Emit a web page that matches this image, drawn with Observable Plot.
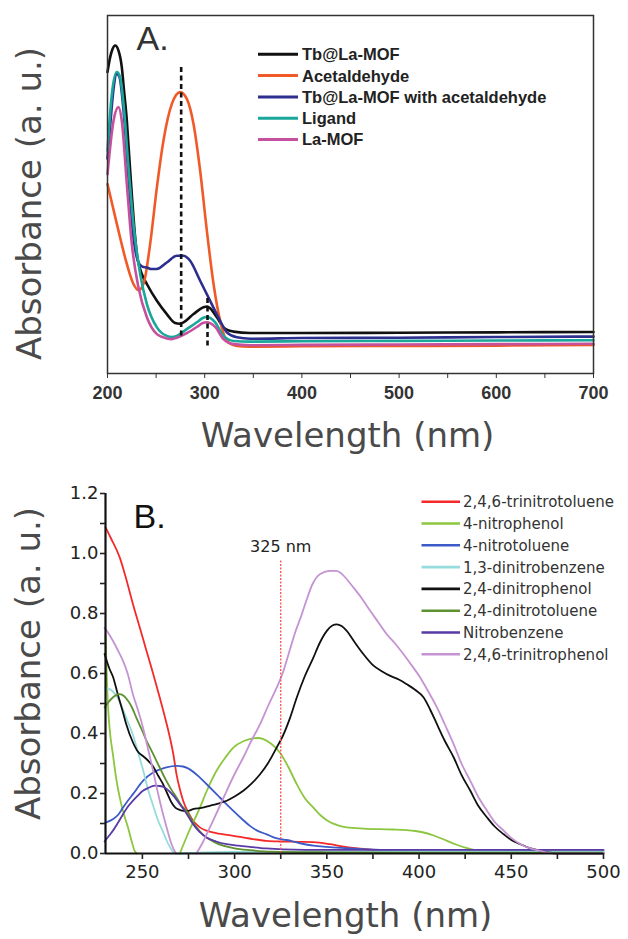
<!DOCTYPE html>
<html><head><meta charset="utf-8">
<script src="https://cdn.jsdelivr.net/npm/d3@7"></script>
<script src="https://cdn.jsdelivr.net/npm/@observablehq/plot@0.6"></script>
<style>
body{margin:0;background:#fff}
#wrap{width:628px;height:939px;background:#fff}
#wrap svg{display:block}
</style>
</head><body><div id="wrap"></div>
<script>
// ---------- Panel A data (wavelength nm, absorbance a.u.) ----------
const namesA = ["Tb@La-MOF", "Acetaldehyde", "Tb@La-MOF with acetaldehyde", "Ligand", "La-MOF"];
const colorsA = ["#111111", "#f05a28", "#2d2f8f", "#1aa69a", "#c4509e"];
const tbLaMOF = [[200,0.842],[202.7,0.883],[205,0.905],[207.9,0.916],[211.3,0.902],[214.7,0.856],[217,0.79],[219.9,0.706],[222.5,0.6],[225,0.501],[227.5,0.41],[230.2,0.334],[235,0.28],[240.5,0.25],[250.8,0.203],[261,0.166],[269.6,0.141],[274,0.139],[278.2,0.143],[288.5,0.166],[298.8,0.185],[302.5,0.187],[305.6,0.182],[312.5,0.157],[319.3,0.129],[325,0.12],[329.6,0.117],[346.8,0.113],[400,0.113],[500,0.114],[600,0.115],[700,0.116]];
const acetaldehyde = [[200,0.529],[209.6,0.418],[219.9,0.306],[226.7,0.25],[231.9,0.233],[237,0.25],[243.9,0.362],[250.8,0.52],[257.6,0.651],[266.2,0.753],[274.8,0.786],[281.6,0.767],[288.5,0.697],[295.3,0.567],[302.2,0.399],[309.1,0.25],[315.9,0.147],[322.8,0.091],[333.1,0.077],[346.8,0.075],[400,0.076],[500,0.077],[600,0.078],[700,0.08]];
const tbWithAcetaldehyde = [[200,0.6],[203,0.7],[206,0.79],[209.6,0.837],[212.3,0.828],[216.5,0.734],[221.6,0.548],[226.7,0.38],[231.9,0.31],[236,0.298],[240.5,0.296],[245,0.292],[250.8,0.292],[261,0.31],[271.3,0.329],[278.2,0.329],[285,0.315],[295.3,0.259],[305.6,0.203],[315.9,0.147],[322.8,0.115],[333.1,0.101],[346.8,0.097],[400,0.099],[500,0.1],[600,0.102],[700,0.103]];
const ligand = [[200,0.623],[204.5,0.781],[209.6,0.842],[213,0.828],[216.5,0.753],[221.6,0.576],[226.7,0.418],[233.6,0.278],[240.5,0.194],[250.8,0.129],[261,0.105],[266,0.102],[271.3,0.105],[281.6,0.124],[291.9,0.143],[298,0.155],[302.2,0.158],[306,0.155],[310.8,0.143],[319.3,0.105],[329.6,0.091],[346.8,0.089],[400,0.09],[500,0.091],[600,0.092],[700,0.093]];
const laMOF = [[200,0.557],[206.2,0.706],[211.3,0.744],[214.7,0.706],[219.9,0.529],[225,0.362],[231.9,0.24],[240.5,0.157],[250.8,0.11],[261,0.098],[266,0.096],[271.3,0.1],[281.6,0.113],[291.9,0.13],[298,0.141],[302.2,0.143],[306,0.14],[310.8,0.13],[319.3,0.096],[329.6,0.082],[346.8,0.079],[400,0.08],[500,0.081],[600,0.082],[700,0.083]];
const seriesA = [tbLaMOF, acetaldehyde, tbWithAcetaldehyde, ligand, laMOF];
const dashNm = [275.8, 302.9];
const dashLow = [0.105, 0.077];
const dashHigh = [0.86, 0.212];
const ticksA = [200, 250, 300, 350, 400, 450, 500, 550, 600, 650, 700];

// ---------- Panel B data ----------
const namesB = ["2,4,6-trinitrotoluene", "4-nitrophenol", "4-nitrotoluene", "1,3-dinitrobenzene", "2,4-dinitrophenol", "2,4-dinitrotoluene", "Nitrobenzene", "2,4,6-trinitrophenol"];
const colorsB = ["#f42a2a", "#8cc63e", "#3c5bc8", "#96dcdc", "#111111", "#5e9130", "#5a3aa5", "#c593d3"];
const tnt = [[230,1.087],[233,1.05],[237.7,0.987],[241,0.92],[244.9,0.831],[248.5,0.755],[252.2,0.676],[255.8,0.6],[259.4,0.52],[262,0.46],[264.9,0.387],[266.8,0.33],[268.5,0.264],[270.3,0.215],[272.1,0.176],[275,0.135],[277.5,0.109],[281,0.088],[284.8,0.076],[290,0.068],[299.3,0.059],[308,0.05],[317.4,0.042],[324.6,0.04],[335,0.039],[342.7,0.038],[351.8,0.031],[360,0.022],[369.9,0.015],[380,0.01],[397,0.007],[430,0.005],[470,0.004],[500,0.004]];
const nitrophenol = [[230,0.73],[231.3,0.498],[232.5,0.4],[234,0.331],[235.8,0.25],[237.7,0.187],[240,0.13],[242.2,0.087],[244,0.045],[245.8,0.009],[247,0],[257,null],[270.3,0],[275,0.07],[281.2,0.153],[285,0.21],[290.2,0.276],[295,0.32],[299.3,0.353],[305,0.375],[310.1,0.384],[313,0.385],[315.6,0.381],[320,0.365],[324.6,0.336],[329,0.29],[333.7,0.231],[338,0.185],[342.7,0.153],[347,0.125],[351.8,0.104],[356,0.094],[360.8,0.087],[370,0.083],[378.9,0.081],[386,0.08],[393.4,0.078],[398,0.075],[402.5,0.07],[408,0.06],[415.2,0.042],[420,0.03],[426,0.018],[431.5,0.009],[435,0.002]];
const nitrotoluene = [[230,0.103],[234,0.114],[237,0.13],[239.5,0.153],[242,0.175],[244.9,0.198],[250.3,0.242],[255.8,0.27],[259.4,0.28],[263,0.287],[268.5,0.292],[272,0.29],[275,0.283],[281.2,0.253],[285,0.23],[290.2,0.198],[295,0.168],[299.3,0.142],[304,0.115],[308.3,0.092],[312,0.077],[317.4,0.064],[322,0.052],[328.3,0.045],[335,0.035],[342.7,0.026],[350,0.022],[360.8,0.018],[378.9,0.012],[400,0.01],[450,0.009],[500,0.009]];
const dinitrobenzene = [[230,0.553],[234,0.54],[236.5,0.52],[239.5,0.48],[242,0.44],[244.9,0.395],[247.5,0.34],[250.3,0.28],[253,0.215],[255.8,0.16],[258.5,0.11],[261.2,0.072],[263,0.045],[264.9,0.022],[266.7,0.005],[268.5,0],[280,0.003],[300,0.005],[350,0.006],[400,0.008],[450,0.008],[500,0.008]];
const dinitrophenol = [[229.5,0.665],[232.2,0.615],[234,0.59],[236.7,0.53],[239.5,0.47],[241.3,0.43],[244.9,0.37],[247.5,0.34],[250.3,0.325],[253,0.31],[255.8,0.29],[258.5,0.26],[261.2,0.231],[263.5,0.2],[265.8,0.17],[268,0.152],[270.3,0.145],[272.1,0.142],[274.8,0.142],[277.5,0.148],[282,0.152],[286.6,0.159],[291,0.166],[295.7,0.176],[300,0.19],[304.7,0.209],[309,0.232],[313.8,0.264],[318,0.3],[322.8,0.353],[326,0.39],[330.1,0.453],[333.7,0.52],[338,0.59],[342.7,0.653],[346,0.7],[350,0.742],[353,0.76],[355.4,0.764],[358,0.758],[360.8,0.742],[365,0.705],[369.9,0.664],[375.3,0.626],[380,0.607],[384.4,0.592],[389,0.58],[393.4,0.564],[398,0.545],[402.5,0.52],[406,0.48],[409.7,0.431],[414,0.375],[418.8,0.32],[423,0.262],[427.8,0.209],[432,0.16],[436.9,0.12],[441,0.09],[445.9,0.064],[450,0.045],[455,0.031],[460,0.018],[465.8,0.009],[470,0.004],[474.9,0.0],[500,0.0]];
const dinitrotoluene = [[229.5,0.487],[231,0.5],[233.1,0.515],[235.5,0.527],[237.7,0.531],[240,0.525],[242.2,0.509],[244.5,0.485],[246.7,0.453],[249.5,0.415],[252.2,0.376],[255,0.342],[257.6,0.309],[260.3,0.275],[263,0.242],[265.8,0.212],[268.5,0.187],[271.2,0.16],[273.9,0.142],[277.5,0.103],[281,0.075],[284.8,0.053],[289,0.038],[293.8,0.026],[300,0.017],[308.3,0.011],[320,0.006],[350,0.004],[400,0.003],[500,0.003]];
const nitrobenzene = [[229.5,0.04],[232,0.06],[234,0.076],[237,0.105],[239.5,0.131],[242,0.155],[244.9,0.176],[247.5,0.193],[250.3,0.209],[253,0.218],[256.7,0.226],[259.5,0.225],[262.1,0.22],[265,0.205],[267.6,0.187],[270.3,0.164],[273,0.142],[277.5,0.098],[281,0.072],[284.8,0.053],[290,0.04],[295.7,0.031],[302,0.026],[308.3,0.022],[317,0.017],[326.4,0.014],[350,0.012],[400,0.012],[450,0.012],[500,0.012]];
const trinitrophenol = [[229.5,0.752],[232,0.73],[234,0.709],[236.5,0.68],[239.5,0.642],[242,0.6],[244.9,0.53],[247.5,0.48],[250.3,0.42],[253,0.35],[255.8,0.276],[258.5,0.2],[261.2,0.131],[263,0.09],[265.8,0.031],[268.2,0],[274,null],[279.3,0],[283,0.04],[286.6,0.087],[291,0.145],[295.7,0.209],[300,0.265],[304.7,0.32],[309,0.375],[313.8,0.431],[318,0.49],[322.8,0.553],[326,0.6],[330,0.68],[333,0.74],[336,0.79],[339,0.845],[342,0.895],[346.4,0.932],[351.8,0.942],[355,0.942],[357.2,0.937],[360,0.92],[364.4,0.887],[369,0.85],[373.5,0.809],[378,0.77],[382.5,0.731],[387,0.7],[391.6,0.664],[396,0.627],[400.6,0.587],[405,0.54],[409.7,0.487],[414,0.43],[418.8,0.364],[423,0.3],[427.8,0.242],[432,0.19],[436.9,0.142],[441,0.105],[445.9,0.076],[450,0.052],[455,0.031],[460,0.018],[464,0.011],[468,0.005],[473,0],[500,0]];
const seriesB = [tnt, nitrophenol, nitrotoluene, dinitrobenzene, dinitrophenol, dinitrotoluene, nitrobenzene, trinitrophenol];
const markerNm = [325];
const markerLabel = ["325 nm"];
const ticksBx = [250, 275, 300, 325, 350, 375, 400, 425, 450, 475, 500];
const ticksBy = [0, 0.1, 0.2, 0.3, 0.4, 0.5, 0.6, 0.7, 0.8, 0.9, 1.0, 1.1, 1.2];

const rowsA = namesA.flatMap((name, i) => seriesA[i].map(([nm, v]) => ({name, nm, v})));
const rowsB = namesB.flatMap((name, i) => seriesB[i].map(([nm, v]) => ({name, nm, v})));

const TITLE_FONT = "DejaVu Sans";
const wrap = document.getElementById("wrap");

// ---------- Panel A ----------
const plotA = Plot.plot({
  width: 628, height: 470,
  marginLeft: 107, marginRight: 35, marginTop: 15, marginBottom: 97,
  style: {background: "#fff", fontFamily: "Liberation Sans"},
  x: {domain: [200, 700]},
  y: {domain: [0, 1], axis: null},
  color: {domain: namesA, range: colorsA},
  marks: [
    Plot.line(rowsA, {x: "nm", y: "v", stroke: "name", strokeWidth: 2.6, curve: "monotone-x"}),
    Plot.ruleX(dashNm.map((nm, i) => ({nm, lo: dashLow[i], hi: dashHigh[i]})),
      {x: "nm", y1: "lo", y2: "hi", stroke: "#111", strokeWidth: 2.6, strokeDasharray: "5,3.5"}),
    Plot.frame({stroke: "#333", strokeWidth: 1.5}),
    Plot.axisX({ticks: ticksA, tickSize: 5, tickPadding: 8, label: null, fontSize: 18, fontWeight: "bold",
      color: "#333", fontFamily: "Liberation Sans", tickFormat: d => d % 100 === 0 ? String(d) : ""}),
    Plot.text(["Wavelength (nm)"], {text: d => d, frameAnchor: "bottom", textAnchor: "middle", dy: 73, dx: -3, fontSize: 34,
      fill: "#4a4a4a", fontFamily: TITLE_FONT}),
    Plot.text(["Absorbance (a. u.)"], {text: d => d, frameAnchor: "left", textAnchor: "middle", rotate: -90, dx: -77, dy: 9,
      fontSize: 34, fill: "#4a4a4a", fontFamily: TITLE_FONT}),
    Plot.text(["A."], {text: d => d, frameAnchor: "top-left", textAnchor: "start", lineAnchor: "top",
      dx: 29, dy: 10, fontSize: 34, fill: "#333", fontFamily: "Liberation Sans"})
  ]
});
wrap.appendChild(plotA);

// legend A
{
  const g = d3.select(plotA).append("g").attr("text-anchor", "start");
  namesA.forEach((name, i) => {
    const y = 54.3 + i * 21.3;
    g.append("line").attr("x1", 258).attr("x2", 298).attr("y1", y).attr("y2", y)
      .attr("stroke", colorsA[i]).attr("stroke-width", 3);
    g.append("text").attr("x", 302).attr("y", y).attr("dy", "0.36em").attr("text-anchor", "start")
      .attr("font-family", "Liberation Sans").attr("font-weight", "bold").attr("font-size", 16.5)
      .attr("fill", "#222").text(name);
  });
}

// ---------- Panel B ----------
const plotB = Plot.plot({
  width: 628, height: 469,
  marginLeft: 105, marginRight: 25, marginTop: 23, marginBottom: 86,
  style: {background: "#fff", fontFamily: "DejaVu Sans"},
  x: {domain: [230, 500]},
  y: {domain: [0, 1.2]},
  color: {domain: namesB, range: colorsB},
  marks: [
    Plot.line(rowsB, {x: "nm", y: "v", stroke: "name", strokeWidth: 1.8, curve: "monotone-x"}),
    Plot.ruleX(markerNm, {x: d => d, y1: 0, y2: 0.98, stroke: "#ff5a5a", strokeWidth: 1.4, strokeDasharray: "2,1.5"}),
    Plot.text(markerNm, {x: d => d, y: 1.022, text: (d, i) => markerLabel[i], fontSize: 16, fill: "#222",
      fontFamily: "DejaVu Sans"}),
    Plot.ruleY([0], {stroke: "#111", strokeWidth: 2.2}),
    Plot.ruleX([230], {stroke: "#111", strokeWidth: 2.2}),
    Plot.axisX({ticks: ticksBx, tickSize: 6, tickPadding: 6, label: null, fontSize: 18, color: "#222",
      fontFamily: "DejaVu Sans", strokeWidth: 1.6, tickFormat: d => d % 50 === 0 ? String(d) : ""}),
    Plot.axisY({ticks: ticksBy, tickSize: 5, tickPadding: 2, label: null, fontSize: 18, color: "#222",
      fontFamily: "DejaVu Sans", strokeWidth: 1.6,
      tickFormat: d => Math.round(d * 10) % 2 === 0 ? d.toFixed(1) : ""}),
    Plot.text(["Wavelength (nm)"], {text: d => d, frameAnchor: "bottom", textAnchor: "middle", dy: 73, dx: -9, fontSize: 34,
      fill: "#4a4a4a", fontFamily: TITLE_FONT}),
    Plot.text(["Absorbance (a. u.)"], {text: d => d, frameAnchor: "left", textAnchor: "middle", rotate: -90, dx: -76, dy: -10,
      fontSize: 34, fill: "#4a4a4a", fontFamily: TITLE_FONT}),
    Plot.text(["B."], {text: d => d, frameAnchor: "top-left", textAnchor: "start", lineAnchor: "top",
      dx: 28, dy: 10, fontSize: 34, fill: "#111", fontFamily: "Liberation Sans"})
  ]
});
wrap.appendChild(plotB);

// legend B
{
  const g = d3.select(plotB).append("g").attr("text-anchor", "start");
  namesB.forEach((name, i) => {
    const y = 31.7 + i * 21.8;
    g.append("line").attr("x1", 421.5).attr("x2", 460).attr("y1", y).attr("y2", y)
      .attr("stroke", colorsB[i]).attr("stroke-width", 2.6);
    g.append("text").attr("x", 463).attr("y", y).attr("dy", "0.36em").attr("text-anchor", "start")
      .attr("font-family", "DejaVu Sans").attr("font-size", 15)
      .attr("fill", "#333").text(name);
  });
}
</script>
</body></html>
